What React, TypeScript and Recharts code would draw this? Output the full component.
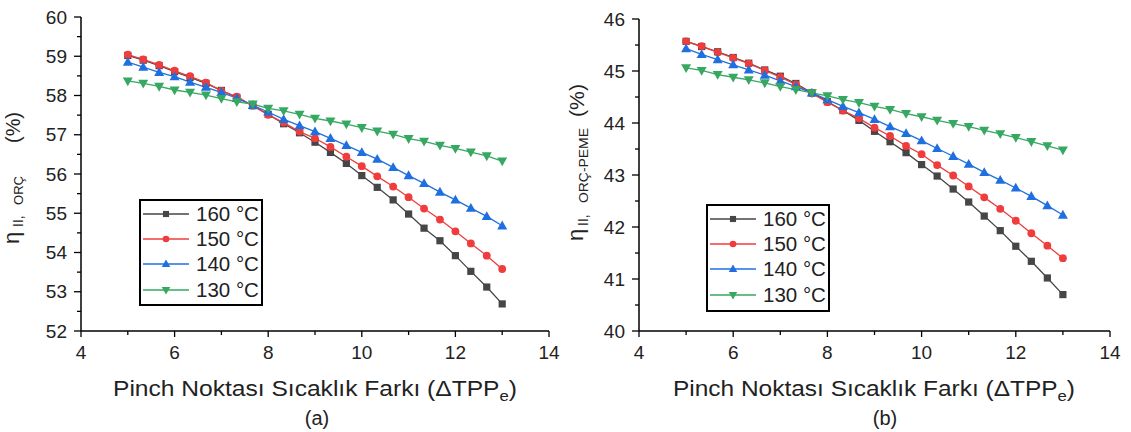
import React from 'react';
import { LineChart, Line, XAxis, YAxis, Legend } from 'recharts';

const X_VALUES = [5, 5.33, 5.67, 6, 6.33, 6.67, 7, 7.33, 7.67, 8, 8.33, 8.67, 9, 9.33, 9.67, 10, 10.33, 10.67, 11, 11.33, 11.67, 12, 12.33, 12.67, 13];

const A_160 = [59.02, 58.9, 58.76, 58.61, 58.46, 58.31, 58.13, 57.95, 57.74, 57.52, 57.28, 57.05, 56.81, 56.55, 56.27, 55.96, 55.66, 55.34, 54.98, 54.62, 54.3, 53.92, 53.52, 53.12, 52.69];
const A_150 = [59.04, 58.92, 58.78, 58.63, 58.49, 58.33, 58.12, 57.97, 57.74, 57.51, 57.31, 57.08, 56.91, 56.69, 56.44, 56.2, 55.94, 55.68, 55.41, 55.12, 54.84, 54.54, 54.23, 53.92, 53.58];
const A_140 = [58.85, 58.72, 58.59, 58.48, 58.34, 58.21, 58.08, 57.93, 57.75, 57.58, 57.39, 57.23, 57.08, 56.91, 56.73, 56.55, 56.38, 56.17, 55.96, 55.76, 55.54, 55.34, 55.13, 54.92, 54.68];
const A_130 = [58.37, 58.31, 58.23, 58.14, 58.08, 58.01, 57.92, 57.84, 57.78, 57.67, 57.61, 57.52, 57.42, 57.35, 57.27, 57.18, 57.09, 57.01, 56.9, 56.83, 56.73, 56.65, 56.56, 56.46, 56.33];

const B_160 = [45.57, 45.47, 45.37, 45.26, 45.15, 45.02, 44.9, 44.76, 44.58, 44.41, 44.24, 44.05, 43.84, 43.64, 43.43, 43.2, 42.98, 42.73, 42.48, 42.21, 41.93, 41.63, 41.34, 41.02, 40.7];
const B_150 = [45.57, 45.48, 45.36, 45.25, 45.14, 45.01, 44.88, 44.74, 44.57, 44.4, 44.24, 44.09, 43.91, 43.75, 43.56, 43.4, 43.19, 42.99, 42.78, 42.57, 42.35, 42.12, 41.88, 41.64, 41.4];
const B_140 = [45.43, 45.32, 45.22, 45.12, 45.02, 44.92, 44.81, 44.7, 44.58, 44.45, 44.32, 44.2, 44.07, 43.93, 43.8, 43.66, 43.51, 43.36, 43.21, 43.05, 42.9, 42.75, 42.59, 42.41, 42.23];
const B_130 = [45.06, 45.01, 44.93, 44.88, 44.83, 44.77, 44.7, 44.64, 44.58, 44.52, 44.45, 44.39, 44.32, 44.26, 44.18, 44.12, 44.05, 43.99, 43.93, 43.86, 43.79, 43.72, 43.64, 43.56, 43.48];

const SERIES_LABELS = ['160 °C', '150 °C', '140 °C', '130 °C'];
const X_TICKS = [4, 5, 6, 7, 8, 9, 10, 11, 12, 13, 14];
const A_Y_TICKS = [52, 52.5, 53, 53.5, 54, 54.5, 55, 55.5, 56, 56.5, 57, 57.5, 58, 58.5, 59, 59.5, 60];
const B_Y_TICKS = [40, 40.5, 41, 41.5, 42, 42.5, 43, 43.5, 44, 44.5, 45, 45.5, 46];

const COLORS = ['#464646', '#f03c3c', '#1f6fe0', '#36a862'];
const SHAPES = ['square', 'circle', 'up', 'down'];
const KEYS = ['s160', 's150', 's140', 's130'];
const FONT = '"Liberation Sans", Arial, sans-serif';
const TEXT = '#222';

const rowsA = X_VALUES.map((x, i) => ({ x, s160: A_160[i], s150: A_150[i], s140: A_140[i], s130: A_130[i] }));
const rowsB = X_VALUES.map((x, i) => ({ x, s160: B_160[i], s150: B_150[i], s140: B_140[i], s130: B_130[i] }));

function Marker({ shape, cx, cy, color, s = 1 }: any) {
  if (shape === 'square') return <rect x={cx - 3.6 * s} y={cy - 3.6 * s} width={7.2 * s} height={7.2 * s} fill={color} />;
  if (shape === 'circle') return <circle cx={cx} cy={cy} r={3.9 * s} fill={color} />;
  if (shape === 'up') return <path d={`M${cx},${cy - 5.2 * s}L${cx + 5 * s},${cy + 3.6 * s}L${cx - 5 * s},${cy + 3.6 * s}Z`} fill={color} />;
  return <path d={`M${cx},${cy + 5.2 * s}L${cx + 5 * s},${cy - 3.6 * s}L${cx - 5 * s},${cy - 3.6 * s}Z`} fill={color} />;
}

const makeDot = (idx: number) => (p: any) => (
  <g key={`d-${idx}-${p.index}`}>
    <Marker shape={SHAPES[idx]} cx={p.cx} cy={p.cy} color={COLORS[idx]} />
  </g>
);

const YTick = (props: any) => {
  const { x, y, payload } = props;
  const v = payload.value;
  const major = Number.isInteger(v);
  return (
    <g>
      <line x1={x - (major ? 7 : 4)} x2={x} y1={y} y2={y} stroke="#000" strokeWidth={1.3} />
      {major && (
        <text x={x - 14} y={y} textAnchor="end" dominantBaseline="central" fontSize={19} fontFamily={FONT} fill={TEXT}>
          {v}
        </text>
      )}
    </g>
  );
};

const XTick = (props: any) => {
  const { x, y, payload } = props;
  const v = payload.value;
  const major = v % 2 === 0;
  return (
    <g>
      <line x1={x} x2={x} y1={y} y2={y + (major ? 6 : 4)} stroke="#000" strokeWidth={1.3} />
      {major && (
        <text x={x} y={y + 21} textAnchor="middle" dominantBaseline="central" fontSize={19} fontFamily={FONT} fill={TEXT}>
          {v}
        </text>
      )}
    </g>
  );
};

const LegendBox = ({ width, height }: any) => (
  <div
    style={{
      width,
      height,
      border: '2px solid #000',
      boxSizing: 'border-box',
      background: '#fff',
      fontFamily: FONT,
      fontSize: 20.5,
      color: TEXT,
      whiteSpace: 'nowrap',
      overflow: 'hidden',
    }}
  >
    {SERIES_LABELS.map((lab, i) => (
      <div key={lab} style={{ display: 'flex', alignItems: 'center', height: 25.3 }}>
        <svg width={52} height={20} style={{ display: 'block', flex: 'none' }}>
          <line x1={2} x2={48} y1={10} y2={10} stroke={COLORS[i]} strokeWidth={1.4} />
          <Marker shape={SHAPES[i]} cx={25} cy={10} color={COLORS[i]} s={0.85} />
        </svg>
        <span style={{ marginLeft: 3, lineHeight: '20px', whiteSpace: 'nowrap' }}>{lab}</span>
      </div>
    ))}
  </div>
);

function Panel({ rows, domain, yTicks, left, width, margin, legendPos, legendSize }: any) {
  return (
    <div style={{ position: 'absolute', left, top: 0 }}>
      <LineChart width={width} height={432} data={rows} margin={margin}>
        <XAxis
          dataKey="x"
          type="number"
          domain={[4, 14]}
          ticks={X_TICKS}
          interval={0}
          height={30}
          tickSize={0}
          tickMargin={0}
          tickLine={false}
          tick={<XTick />}
          axisLine={{ stroke: '#000', strokeWidth: 1.5 }}
        />
        <YAxis
          type="number"
          domain={domain}
          ticks={yTicks}
          interval={0}
          width={60}
          tickSize={0}
          tickMargin={0}
          tickLine={false}
          tick={<YTick />}
          axisLine={{ stroke: '#000', strokeWidth: 1.5 }}
        />
        {KEYS.map((k, i) => (
          <Line
            key={k}
            dataKey={k}
            name={SERIES_LABELS[i]}
            stroke={COLORS[i]}
            strokeWidth={1.3}
            dot={makeDot(i)}
            activeDot={false}
            isAnimationActive={false}
          />
        ))}
        <Legend
          layout="vertical"
          align="center"
          verticalAlign="middle"
          content={() => <LegendBox width={legendSize[0]} height={legendSize[1]} />}
          wrapperStyle={{ position: 'absolute', left: legendPos[0], top: legendPos[1], width: legendSize[0], height: legendSize[1] }}
        />
      </LineChart>
    </div>
  );
}

export default function App() {
  return (
    <div style={{ position: 'absolute', left: 0, top: 0, width: 1131, height: 432, background: '#fff' }}>
      <Panel
        rows={rowsA}
        domain={[52, 60]}
        yTicks={A_Y_TICKS}
        left={0}
        width={560}
        margin={{ top: 17, right: 11, left: 21, bottom: 71 }}
        legendPos={[139, 199]}
        legendSize={[124, 107]}
      />
      <Panel
        rows={rowsB}
        domain={[40, 46]}
        yTicks={B_Y_TICKS}
        left={560}
        width={571}
        margin={{ top: 19, right: 21, left: 19, bottom: 71 }}
        legendPos={[146, 204]}
        legendSize={[124, 108]}
      />
      <svg width={1131} height={432} style={{ position: 'absolute', left: 0, top: 0, pointerEvents: 'none' }} fontFamily={FONT} fill={TEXT}>
        <text transform="translate(0,244) rotate(-90)">
          <tspan x={0} y={19} fontSize={22}>η</tspan>
          <tspan x={17} y={23} fontSize={14}>II,</tspan>
          <tspan x={39} y={23} fontSize={12} textLength={29} lengthAdjust="spacingAndGlyphs">ORÇ</tspan>
          <tspan x={101} y={20} fontSize={20} textLength={31} lengthAdjust="spacingAndGlyphs">(%)</tspan>
        </text>
        <text transform="translate(0,241) rotate(-90)">
          <tspan x={0} y={583} fontSize={22}>η</tspan>
          <tspan x={15} y={588} fontSize={14}>II,</tspan>
          <tspan x={38} y={588} fontSize={12} textLength={75} lengthAdjust="spacingAndGlyphs">ORÇ-PEME</tspan>
          <tspan x={124} y={584} fontSize={20} textLength={33} lengthAdjust="spacingAndGlyphs">(%)</tspan>
        </text>
        <text x={113} y={396} fontSize={22} textLength={404} lengthAdjust="spacingAndGlyphs">
          Pinch Noktası Sıcaklık Farkı (ΔTPP<tspan dy={5} fontSize={15}>e</tspan><tspan dy={-5}>)</tspan>
        </text>
        <text x={317} y={425} fontSize={20} textAnchor="middle">(a)</text>
        <text x={673} y={396} fontSize={22} textLength={402} lengthAdjust="spacingAndGlyphs">
          Pinch Noktası Sıcaklık Farkı (ΔTPP<tspan dy={5} fontSize={15}>e</tspan><tspan dy={-5}>)</tspan>
        </text>
        <text x={885} y={425} fontSize={20} textAnchor="middle">(b)</text>
      </svg>
    </div>
  );
}
